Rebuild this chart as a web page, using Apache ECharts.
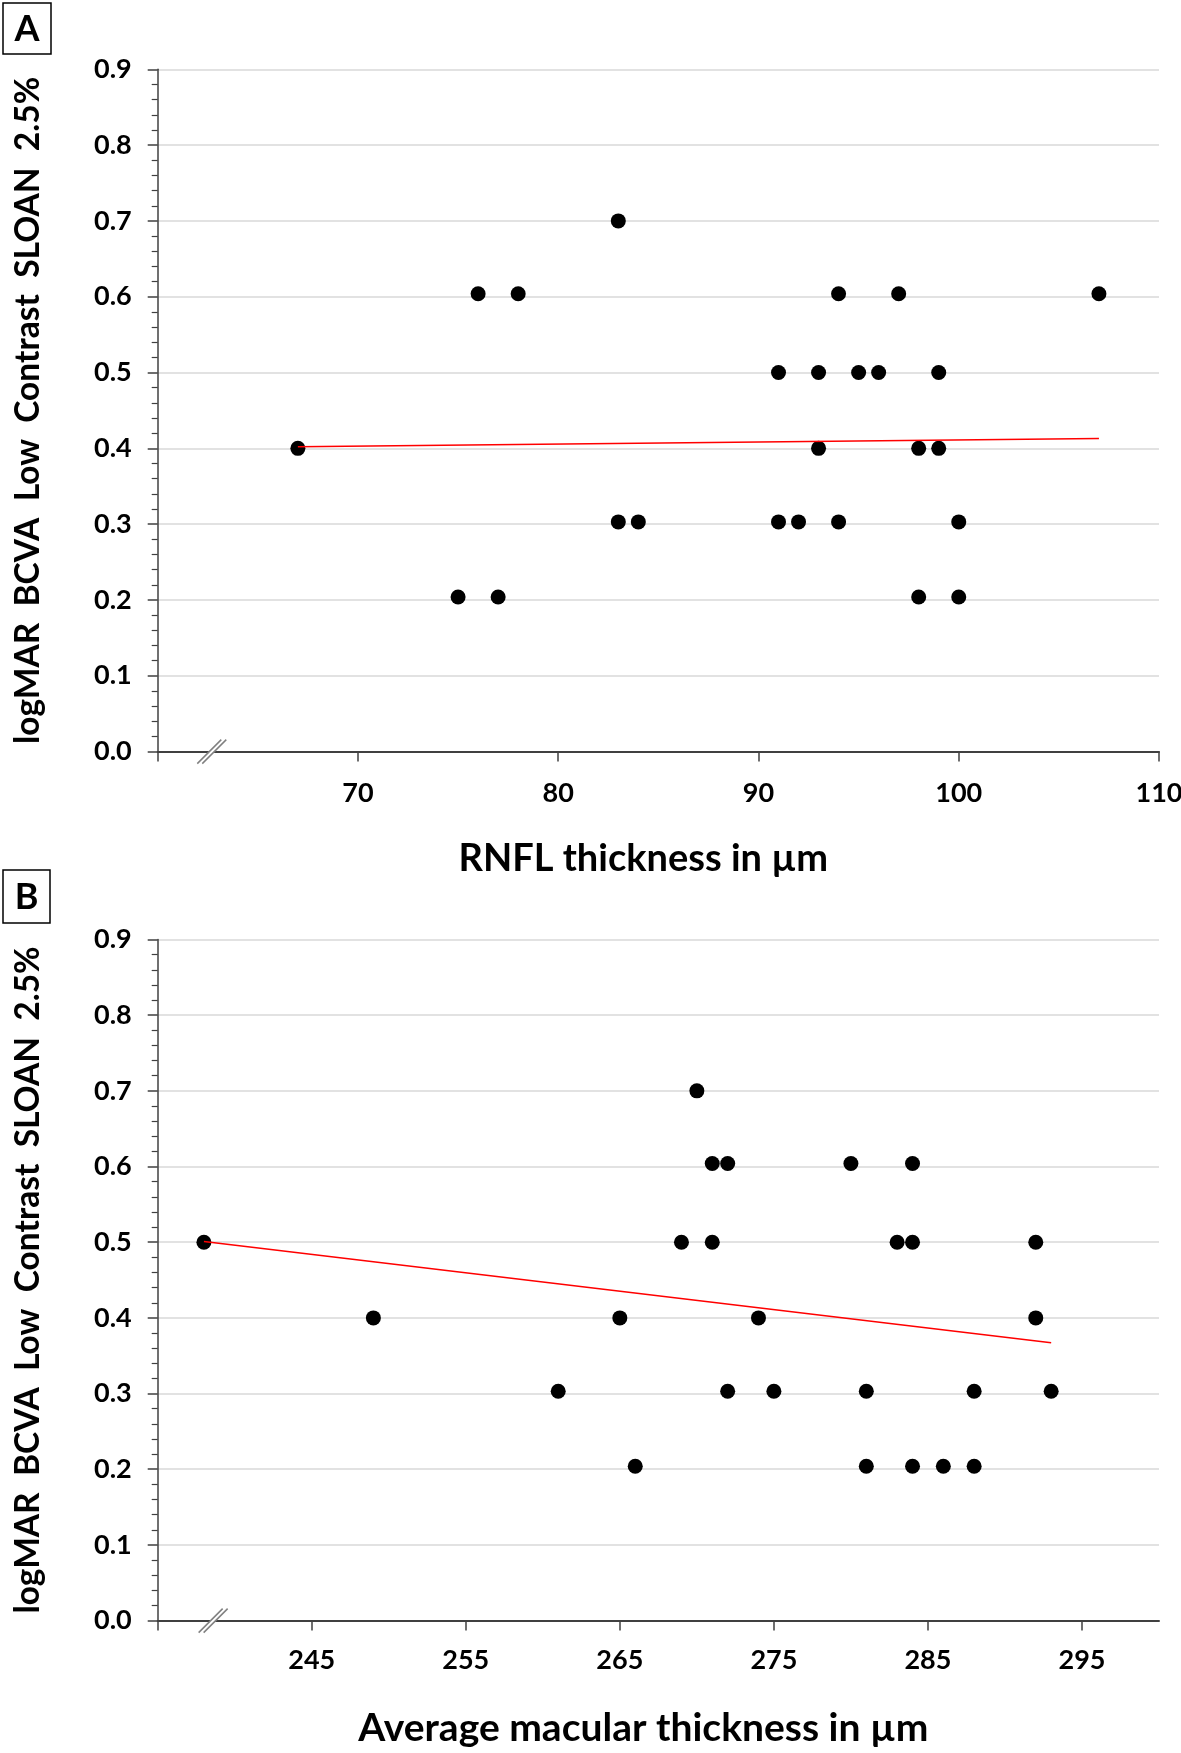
<!DOCTYPE html>
<html><head><meta charset="utf-8">
<script src="https://cdn.jsdelivr.net/npm/echarts@6/dist/echarts.min.js"></script>
<style>html,body{margin:0;padding:0;background:#fff}#c{width:1181px;height:1753px}</style>
</head><body><div id="c"></div>
<script>
// Panel A: RNFL thickness (µm) vs logMAR BCVA low contrast SLOAN 2.5%
const rnflX = [67, 76, 78, 83, 94, 97, 107, 91, 93, 95, 96, 99, 93, 98, 99, 83, 84, 91, 92, 94, 100, 75, 77, 98, 100];
const rnflY = [0.4, 0.604, 0.604, 0.7, 0.604, 0.604, 0.604, 0.5, 0.5, 0.5, 0.5, 0.5, 0.4, 0.4, 0.4, 0.303, 0.303, 0.303, 0.303, 0.303, 0.303, 0.204, 0.204, 0.204, 0.204];
const trendAx = [67, 107];
const trendAy = [0.402, 0.413];
// Panel B: Average macular thickness (µm)
const macX = [238, 249, 261, 265, 266, 269, 270, 271, 272, 271, 272, 274, 275, 280, 281, 281, 283, 284, 284, 284, 286, 288, 288, 292, 292, 293];
const macY = [0.5, 0.4, 0.303, 0.4, 0.204, 0.5, 0.7, 0.604, 0.604, 0.5, 0.303, 0.4, 0.303, 0.604, 0.204, 0.303, 0.5, 0.604, 0.5, 0.204, 0.204, 0.303, 0.204, 0.5, 0.4, 0.303];
const trendBx = [238, 293];
const trendBy = [0.501, 0.367];
// Tick labels
const xTicksA = [70, 80, 90, 100, 110];
const xTicksB = [245, 255, 265, 275, 285, 295];
const yTitle = 'logMAR  BCVA  Low  Contrast  SLOAN  2.5%';
const xTitleA = 'RNFL thickness in µm';
const xTitleB = 'Average macular thickness in µm';

const FONT = 'Lato';
const AX = '#404040';
function yAxis(i) {
  return {
    gridIndex: i, type: 'value', min: 0, max: 0.9, interval: 0.1,
    axisLine: {show: true, lineStyle: {color: AX, width: 1.5}},
    axisTick: {show: true, length: 10, lineStyle: {color: AX, width: 1.5}},
    minorTick: {show: true, splitNumber: 5, length: 6, lineStyle: {color: AX, width: 1.2}},
    minorSplitLine: {show: false},
    splitLine: {show: true, lineStyle: {color: '#d9d9d9', width: 1.5}},
    axisLabel: {formatter: v => v.toFixed(1), fontFamily: FONT, fontWeight: 'bold', fontSize: 27, color: '#000', margin: 26},
    name: yTitle, nameLocation: 'middle', nameRotate: 90, nameGap: 112,
    nameTextStyle: {fontFamily: FONT, fontWeight: 'bold', fontSize: 33.5, color: '#000'}
  };
}
function xAxis(i, min, max, ticks, title, fs, lm) {
  return {
    gridIndex: i, type: 'value', min: min, max: max, interval: 10,
    axisLine: {show: true, onZero: false, lineStyle: {color: AX, width: 2}},
    axisTick: {show: true, length: 10, customValues: [min].concat(ticks), lineStyle: {color: AX, width: 1.5}},
    axisLabel: {customValues: ticks, fontFamily: FONT, fontWeight: 'bold', fontSize: 27, color: '#000', margin: lm},
    splitLine: {show: false},
    name: title, nameLocation: 'middle', nameGap: 88,
    nameTextStyle: {fontFamily: FONT, fontWeight: 'bold', fontSize: fs, color: '#000', padding: [0, 30, 0, 0]}
  };
}
const zip = (a, b) => a.map((v, k) => [v, b[k]]);
const chart = echarts.init(document.getElementById('c'), null, {renderer: 'canvas'});
chart.setOption({
  animation: false,
  backgroundColor: '#fff',
  grid: [
    {left: 157.7, right: 22, top: 69.3, height: 682.3, outerBoundsMode: 'none'},
    {left: 157.7, right: 22, top: 939.5, height: 681.1, outerBoundsMode: 'none'}
  ],
  xAxis: [xAxis(0, 60, 110, xTicksA, xTitleA, 38, 28), xAxis(1, 235, 300, xTicksB, xTitleB, 39, 26)],
  yAxis: [yAxis(0), yAxis(1)],
  series: [
    {type: 'scatter', xAxisIndex: 0, yAxisIndex: 0, data: zip(rnflX, rnflY), symbol: 'circle', symbolSize: 15, itemStyle: {color: '#000', opacity: 1}, z: 3},
    {type: 'line', xAxisIndex: 0, yAxisIndex: 0, data: zip(trendAx, trendAy), showSymbol: false, symbol: 'none', lineStyle: {color: '#ff0000', width: 1.5}, z: 4},
    {type: 'scatter', xAxisIndex: 1, yAxisIndex: 1, data: zip(macX, macY), symbol: 'circle', symbolSize: 15, itemStyle: {color: '#000', opacity: 1}, z: 3},
    {type: 'line', xAxisIndex: 1, yAxisIndex: 1, data: zip(trendBx, trendBy), showSymbol: false, symbol: 'none', lineStyle: {color: '#ff0000', width: 1.5}, z: 4}
  ]
});

function breakMark(gi, xv) {
  const p = chart.convertToPixel({xAxisIndex: gi, yAxisIndex: gi}, [xv, 0]);
  const cx = p[0], cy = p[1], h = 12, o = 2.5;
  return [
    {type: 'polygon', shape: {points: [[cx - h - o, cy + h], [cx + h - o, cy - h], [cx + h + o, cy - h], [cx - h + o, cy + h]]}, style: {fill: '#fff'}, z: 100},
    {type: 'line', shape: {x1: cx - h - o, y1: cy + h, x2: cx + h - o, y2: cy - h}, style: {stroke: '#808080', lineWidth: 1.5}, z: 101},
    {type: 'line', shape: {x1: cx - h + o, y1: cy + h, x2: cx + h + o, y2: cy - h}, style: {stroke: '#808080', lineWidth: 1.5}, z: 101}
  ];
}
const graphics = [
  {type: 'rect', shape: {x: 3, y: 3, width: 48, height: 51}, style: {fill: 'none', stroke: '#000', lineWidth: 1.5}, z: 100},
  {type: 'text', x: 27, y: 29, style: {text: 'A', font: 'bold 36px Lato', fill: '#000', align: 'center', verticalAlign: 'middle'}, z: 100},
  {type: 'rect', shape: {x: 3, y: 870, width: 47, height: 53}, style: {fill: 'none', stroke: '#000', lineWidth: 1.5}, z: 100},
  {type: 'text', x: 26.5, y: 897, style: {text: 'B', font: 'bold 36px Lato', fill: '#000', align: 'center', verticalAlign: 'middle'}, z: 100}
].concat(breakMark(0, 62.7), breakMark(1, 238.6));
chart.setOption({graphic: graphics});
</script>
</body></html>
